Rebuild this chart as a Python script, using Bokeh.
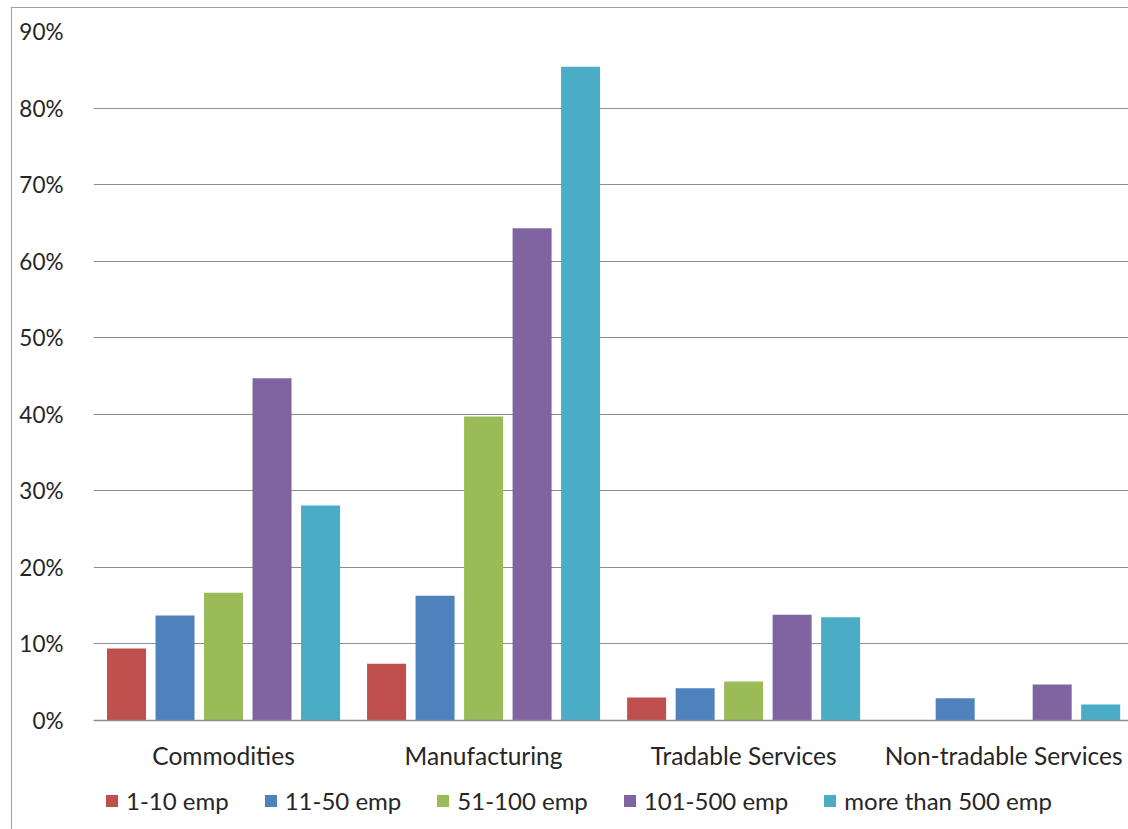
from bokeh.plotting import figure
from bokeh.models import (ColumnDataSource, Range1d, FixedTicker, Legend, LegendItem,
                          NumeralTickFormatter)
from bokeh.embed import file_html
from bokeh.resources import INLINE

categories = ["Commodities", "Manufacturing", "Tradable Services", "Non-tradable Services"]
series_names = ["1-10 emp", "11-50 emp", "51-100 emp", "101-500 emp", "more than 500 emp"]
emp_1_10 = [0.094, 0.074, 0.030, 0.0]
emp_11_50 = [0.137, 0.163, 0.042, 0.029]
emp_51_100 = [0.167, 0.397, 0.051, 0.0]
emp_101_500 = [0.447, 0.643, 0.138, 0.047]
emp_500_plus = [0.281, 0.854, 0.135, 0.021]
y_ticks = [0.0, 0.1, 0.2, 0.3, 0.4, 0.5, 0.6, 0.7, 0.8, 0.9]

series = [emp_1_10, emp_11_50, emp_51_100, emp_101_500, emp_500_plus]
colors = ["#C0504D", "#4F81BD", "#9BBB59", "#8064A2", "#4BACC6"]
FONT = "Lato"
TEXT = "#262626"
GRID = "#8c8c8c"

# frame extends to the bottom of the picture; the 0% baseline sits 109px above it
y_bottom = -109 / 765.56
p = figure(frame_width=1035, frame_height=798, output_backend="svg", toolbar_location=None,
           x_range=Range1d(0, 3.98), y_range=Range1d(y_bottom, 0.9),
           min_border_left=81, min_border_right=0, min_border_top=23, min_border_bottom=0,
           styles={"border-left": "1px solid #a0a0a0", "border-top": "1px solid #a0a0a0",
                   "margin-left": "11px", "margin-top": "7px"})
p.outline_line_color = None
p.background_fill_color = "white"
p.border_fill_color = "white"

pitch = 0.1865
bw = 0.15
items = []
for i, (vals, col, name) in enumerate(zip(series, colors, series_names)):
    xs = [k + 0.5 + (i - 2) * pitch for k in range(len(categories))]
    src = ColumnDataSource(dict(x=xs, top=vals))
    r = p.vbar(x="x", top="top", bottom=0, width=bw, source=src,
               fill_color=col, line_color=None)
    items.append(LegendItem(label=name, renderers=[r]))

# axes
p.xaxis.fixed_location = 0
p.xaxis.ticker = FixedTicker(ticks=[k + 0.5 for k in range(len(categories))])
p.xaxis.major_label_overrides = {k + 0.5: c for k, c in enumerate(categories)}
p.xaxis.major_tick_line_color = None
p.xaxis.minor_tick_line_color = None
p.xaxis.axis_line_color = GRID
p.xaxis.axis_line_width = 1.5
p.xaxis.major_label_text_font = FONT
p.xaxis.major_label_text_font_size = "24.5px"
p.xaxis.major_label_text_color = TEXT
p.xaxis.major_label_standoff = 14
p.xgrid.grid_line_color = None

p.yaxis.ticker = FixedTicker(ticks=y_ticks)
p.yaxis.formatter = NumeralTickFormatter(format="0%")
p.yaxis.axis_line_color = None
p.yaxis.major_tick_line_color = None
p.yaxis.minor_tick_line_color = None
p.yaxis.major_label_text_font = FONT
p.yaxis.major_label_text_font_size = "22.5px"
p.yaxis.major_label_text_color = TEXT
p.yaxis.major_label_standoff = 24
p.ygrid.grid_line_color = GRID
p.ygrid.grid_line_width = 1

legend = Legend(items=items, orientation="horizontal", border_line_color=None,
                background_fill_alpha=0, label_text_font=FONT, label_text_font_size="24px",
                label_text_color=TEXT, glyph_width=15, glyph_height=15, spacing=34,
                label_standoff=7, margin=0, padding=0, location=(11, 14))
p.add_layout(legend, "center")

open("out.html", "w").write(file_html(p, INLINE))
